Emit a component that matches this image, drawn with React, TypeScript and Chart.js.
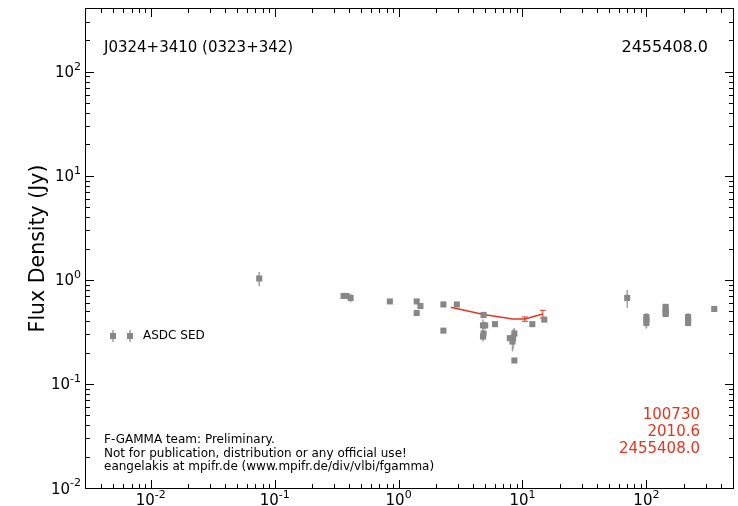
import React, { useEffect, useRef } from "react";
import { Chart, registerables } from "chart.js";

Chart.register(...registerables);

// ASDC SED archival points (frequency GHz, flux Jy, error Jy)
const sedFreq = [0.075, 0.36, 0.38, 0.41, 0.85, 1.4, 1.4, 1.5, 2.3, 2.3, 2.95, 4.85, 4.8, 5.0, 4.85, 4.8, 6.0, 7.9, 8.4, 8.6, 8.3, 8.6, 12.0, 15.0, 70, 100, 100, 100, 143, 143, 143, 143, 217, 217, 217, 353];
const sedFlux = [1.03, 0.7, 0.7, 0.67, 0.62, 0.62, 0.48, 0.56, 0.58, 0.325, 0.58, 0.46, 0.365, 0.365, 0.305, 0.285, 0.375, 0.275, 0.275, 0.305, 0.255, 0.168, 0.375, 0.415, 0.67, 0.44, 0.41, 0.385, 0.55, 0.52, 0.49, 0.47, 0.44, 0.41, 0.385, 0.525];
const sedErr = [0.16, 0.02, 0.02, 0.06, 0, 0, 0, 0, 0, 0, 0, 0.03, 0.05, 0.03, 0.03, 0.03, 0, 0, 0.06, 0.04, 0.05, 0, 0, 0, 0.13, 0.04, 0.07, 0.04, 0.03, 0.03, 0.03, 0.03, 0.04, 0.04, 0.02, 0];

// F-GAMMA Effelsberg measurements at 2455408.0
const fgFreq = [2.64, 4.85, 8.35, 10.45, 14.6];
const fgFlux = [0.545, 0.465, 0.42, 0.42, 0.47];
const fgErr = [0, 0, 0, 0.02, 0.04];

const decadeValues = [0.01, 0.1, 1, 10, 100];
const decadeExponents = ["-2", "-1", "0", "1", "2"];

const sourceTitle = "J0324+3410 (0323+342)";
const epochLabel = "2455408.0";
const redLines = ["100730", "2010.6", "2455408.0"];
const noteLines = [
  "F-GAMMA team: Preliminary.",
  "Not for publication, distribution or any official use!",
  "eangelakis at mpifr.de (www.mpifr.de/div/vlbi/fgamma)",
];
const legendLabel = "ASDC SED";
const yTitle = "Flux Density (Jy)";

const FONT = "'DejaVu Sans', 'Liberation Sans', sans-serif";
const GREY = "#878787";
const RED = "#e5341f";

const errorBarPlugin = {
  id: "errbars",
  beforeDatasetsDraw(chart: any) {
    const ctx = chart.ctx;
    const xs = chart.scales.x;
    const ys = chart.scales.y;
    const area = chart.chartArea;
    ctx.save();
    ctx.beginPath();
    ctx.rect(area.left, area.top, area.right - area.left, area.bottom - area.top);
    ctx.clip();
    chart.data.datasets.forEach((ds: any) => {
      const errs = ds.errs as number[];
      if (!errs) return;
      ctx.strokeStyle = ds.errColor;
      ctx.lineWidth = ds.errWidth;
      ds.data.forEach((p: any, i: number) => {
        const e = errs[i];
        if (!e) return;
        const px = xs.getPixelForValue(p.x);
        const y1 = ys.getPixelForValue(p.y + e);
        const y2 = ys.getPixelForValue(Math.max(p.y - e, 1e-4));
        ctx.beginPath();
        ctx.moveTo(px, y1);
        ctx.lineTo(px, y2);
        if (ds.caps) {
          ctx.moveTo(px - 3, y1);
          ctx.lineTo(px + 3, y1);
          ctx.moveTo(px - 3, y2);
          ctx.lineTo(px + 3, y2);
        }
        ctx.stroke();
      });
    });
    ctx.restore();
  },
};

function minorValues(min: number, max: number) {
  const out: number[] = [];
  for (let d = -4; d <= 4; d++) {
    for (let m = 2; m <= 9; m++) {
      const v = m * Math.pow(10, d);
      if (v > min && v < max) out.push(v);
    }
  }
  return out;
}

const decorPlugin = {
  id: "decor",
  afterDraw(chart: any) {
    const ctx = chart.ctx;
    const xs = chart.scales.x;
    const ys = chart.scales.y;
    const a = chart.chartArea;
    ctx.save();

    // ticks (inward, all four sides)
    ctx.strokeStyle = "#000";
    ctx.lineWidth = 1;
    const majorLen = 8;
    const minorLen = 4;
    const drawX = (v: number, len: number) => {
      const px = Math.round(xs.getPixelForValue(v)) + 0.5;
      ctx.beginPath();
      ctx.moveTo(px, a.bottom);
      ctx.lineTo(px, a.bottom - len);
      ctx.moveTo(px, a.top);
      ctx.lineTo(px, a.top + len);
      ctx.stroke();
    };
    const drawY = (v: number, len: number) => {
      const py = Math.round(ys.getPixelForValue(v)) + 0.5;
      ctx.beginPath();
      ctx.moveTo(a.left, py);
      ctx.lineTo(a.left + len, py);
      ctx.moveTo(a.right, py);
      ctx.lineTo(a.right - len, py);
      ctx.stroke();
    };
    decadeValues.forEach((v) => drawX(v, majorLen));
    minorValues(xs.min, xs.max).forEach((v) => drawX(v, minorLen));
    decadeValues.forEach((v) => drawY(v, majorLen));
    minorValues(ys.min, ys.max).forEach((v) => drawY(v, minorLen));

    // frame
    ctx.strokeStyle = "#000";
    ctx.lineWidth = 1;
    ctx.strokeRect(Math.round(a.left) - 0.5, Math.round(a.top) - 0.5, Math.round(a.right - a.left) + 1, Math.round(a.bottom - a.top) + 1);

    // tick labels with superscripts
    ctx.fillStyle = "#000";
    const baseFont = "15px " + FONT;
    const supFont = "11px " + FONT;
    decadeValues.forEach((v, i) => {
      const exp = decadeExponents[i];
      ctx.font = baseFont;
      const wb = ctx.measureText("10").width;
      ctx.font = supFont;
      const ws = ctx.measureText(exp).width;
      const total = wb + ws;
      // x axis
      const px = xs.getPixelForValue(v);
      ctx.textAlign = "left";
      ctx.textBaseline = "alphabetic";
      ctx.font = baseFont;
      ctx.fillText("10", px - total / 2, a.bottom + 17);
      ctx.font = supFont;
      ctx.fillText(exp, px - total / 2 + wb, a.bottom + 10);
      // y axis
      const py = ys.getPixelForValue(v);
      const right = a.left - 5;
      ctx.font = baseFont;
      ctx.fillText("10", right - total, py + 5.5);
      ctx.font = supFont;
      ctx.fillText(exp, right - ws, py - 2);
    });

    // y title
    ctx.save();
    ctx.translate(44, (a.top + a.bottom) / 2);
    ctx.rotate(-Math.PI / 2);
    ctx.font = "20.5px " + FONT;
    ctx.textAlign = "center";
    ctx.textBaseline = "alphabetic";
    ctx.fillText(yTitle, 0, 0);
    ctx.restore();

    // annotations
    ctx.textBaseline = "alphabetic";
    ctx.font = "15px " + FONT;
    ctx.textAlign = "left";
    ctx.fillText(sourceTitle, a.left + 18, 52);
    ctx.font = "16px " + FONT;
    ctx.textAlign = "right";
    ctx.fillText(epochLabel, a.right - 25, 52);

    ctx.fillStyle = RED;
    ctx.font = "15px " + FONT;
    ctx.textAlign = "right";
    redLines.forEach((t, i) => ctx.fillText(t, 700, 418.5 + i * 17));

    ctx.fillStyle = "#000";
    ctx.font = "12px " + FONT;
    ctx.textAlign = "left";
    noteLines.forEach((t, i) => ctx.fillText(t, a.left + 18, 443 + i * 13.5));

    // legend
    const ly = 336;
    [113, 130].forEach((lx) => {
      ctx.strokeStyle = "#a0a0a0";
      ctx.lineWidth = 1.5;
      ctx.beginPath();
      ctx.moveTo(lx, ly - 6);
      ctx.lineTo(lx, ly + 6);
      ctx.stroke();
      ctx.fillStyle = GREY;
      ctx.fillRect(lx - 3, ly - 3, 6, 6);
    });
    ctx.fillStyle = "#000";
    ctx.font = "12px " + FONT;
    ctx.textAlign = "left";
    ctx.textBaseline = "middle";
    ctx.fillText(legendLabel, 143, ly);

    ctx.restore();
  },
};

export default function App() {
  const ref = useRef<HTMLCanvasElement>(null);
  useEffect(() => {
    if (!ref.current) return;
    const chart = new Chart(ref.current, {
      type: "scatter",
      data: {
        datasets: [
          {
            label: "ASDC SED",
            data: sedFreq.map((f, i) => ({ x: f, y: sedFlux[i] })),
            pointStyle: "rect",
            pointRadius: 4.3,
            pointBorderWidth: 0,
            backgroundColor: GREY,
            borderColor: GREY,
            errs: sedErr,
            errColor: "#a0a0a0",
            errWidth: 1.5,
          } as any,
          {
            label: "F-GAMMA",
            data: fgFreq.map((f, i) => ({ x: f, y: fgFlux[i] })),
            showLine: true,
            pointRadius: 0,
            borderColor: RED,
            borderWidth: 1.5,
            backgroundColor: RED,
            errs: fgErr,
            errColor: RED,
            errWidth: 1,
            caps: true,
          } as any,
        ],
      },
      options: {
        animation: false,
        responsive: false,
        layout: { padding: { left: 86, right: 5, top: 9, bottom: 18 } },
        plugins: { legend: { display: false }, tooltip: { enabled: false } },
        scales: {
          x: { type: "logarithmic", min: 0.003, max: 500, display: false },
          y: { type: "logarithmic", min: 0.01, max: 400, display: false },
        },
      },
      plugins: [errorBarPlugin, decorPlugin],
    });
    return () => chart.destroy();
  }, []);
  return (
    <div style={{ position: "absolute", left: 0, top: 0, width: 738, height: 506, background: "#fff" }}>
      <canvas ref={ref} width={738} height={506} style={{ display: "block" }} />
    </div>
  );
}
